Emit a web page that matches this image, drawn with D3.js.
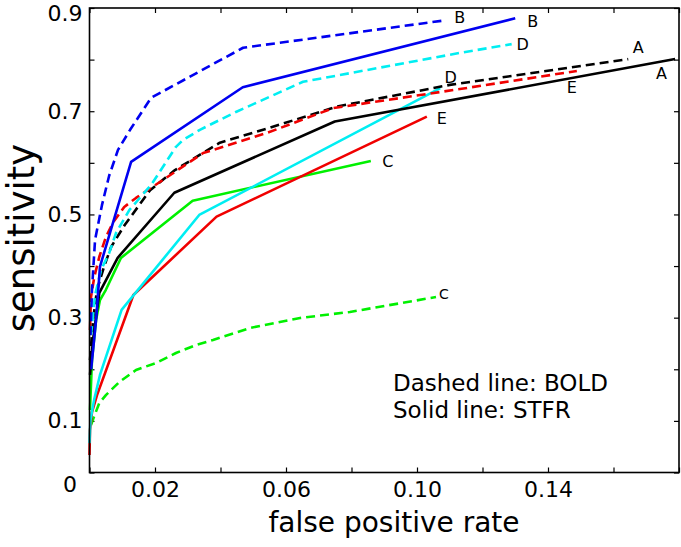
<!DOCTYPE html>
<html><head><meta charset="utf-8">
<script src="https://cdn.jsdelivr.net/npm/d3@7"></script>
<style>body{margin:0;background:#fff}svg{display:block}text{font-family:"DejaVu Sans",sans-serif;fill:#000}</style>
</head><body><svg id="c" width="681" height="547"></svg>
<script>
// ---- data ----
const xTicks = [0, 0.02, 0.04, 0.06, 0.08, 0.10, 0.12, 0.14, 0.16, 0.18];
const xTickLabels = ["", "0.02", "", "0.06", "", "0.10", "", "0.14", "", ""];
const yTicks = [0, 0.1, 0.2, 0.3, 0.4, 0.5, 0.6, 0.7, 0.8, 0.9];
const yTickLabels = ["0", "0.1", "", "0.3", "", "0.5", "", "0.7", "", "0.9"];

const fprA_BOLD = [0.00015,0.00107,0.0023,0.0044,0.0066,0.0108,0.0185,0.0261,0.0398,0.0551,0.0755,0.110,0.1645];
const sensA_BOLD = [0.218,0.2955,0.354,0.398,0.437,0.480,0.547,0.586,0.639,0.668,0.709,0.751,0.801];
const fprA_STFR = [0.00015,0.00107,0.003,0.0086,0.0259,0.0749,0.1788];
const sensA_STFR = [0.189,0.257,0.348,0.416,0.542,0.680,0.801];

const fprB_BOLD = [0.0003,0.00076,0.0017,0.0038,0.006,0.0087,0.0124,0.0188,0.0469,0.1085];
const sensB_BOLD = [0.266,0.354,0.451,0.518,0.575,0.625,0.664,0.726,0.823,0.876];
const fprB_STFR = [0.0005,0.002,0.0032,0.0127,0.0468,0.13];
const sensB_STFR = [0.2,0.295,0.399,0.602,0.7465,0.88];

const fprC_BOLD = [0.00046,0.001,0.003,0.005,0.0091,0.0142,0.0203,0.0264,0.0325,0.0377,0.049,0.0643,0.0795,0.1058];
const sensC_BOLD = [0.092,0.1017,0.1347,0.150,0.1754,0.1986,0.2122,0.2316,0.247,0.2568,0.280,0.2994,0.311,0.340];
const fprC_STFR = [0.00015,0.00076,0.002,0.0032,0.005,0.0096,0.0315,0.0859];
const sensC_STFR = [0.121,0.218,0.2955,0.334,0.354,0.4157,0.5267,0.6037];

const fprD_BOLD = [0.00046,0.0017,0.0035,0.006,0.0081,0.0101,0.0122,0.0188,0.0264,0.0285,0.0337,0.0447,0.0652,0.1131,0.1289];
const sensD_BOLD = [0.2665,0.344,0.392,0.425,0.464,0.486,0.509,0.557,0.631,0.644,0.664,0.6986,0.757,0.813,0.830];
const fprD_STFR = [0,0.0003,0.0014,0.0032,0.0098,0.0335,0.1071];
const sensD_STFR = [0.057,0.1017,0.1405,0.189,0.315,0.499,0.7446];

const fprE_BOLD = [0.00015,0.00046,0.00147,0.003,0.005,0.0071,0.0106,0.0142,0.0234,0.0347,0.0542,0.0744,0.1131,0.1488];
const sensE_BOLD = [0.276,0.340,0.379,0.418,0.456,0.4835,0.5145,0.532,0.571,0.619,0.658,0.706,0.743,0.778];
const fprE_STFR = [0,0.00015,0.00076,0.0023,0.0134,0.0388,0.103];
const sensE_STFR = [0.0339,0.082,0.117,0.150,0.344,0.4957,0.6895];

const noteLines = ["Dashed line: BOLD", "Solid line: STFR"];

// ---- styles ----
const series = [
  {label:"C", fpr:fprC_BOLD, sens:sensC_BOLD, color:"#00f000", dashed:true,  off:[8,-3], fs:14},
  {label:"C", fpr:fprC_STFR, sens:sensC_STFR, color:"#00f000", dashed:false, off:[17,1], fs:16},
  {label:"E", fpr:fprE_STFR, sens:sensE_STFR, color:"#f00000", dashed:false, off:[15,2], fs:16},
  {label:"D", fpr:fprD_STFR, sens:sensD_STFR, color:"#00eef2", dashed:false, off:[10.5,-11], fs:16},
  {label:"A", fpr:fprA_STFR, sens:sensA_STFR, color:"#000000", dashed:false, off:[-13.5,14], fs:16},
  {label:"A", fpr:fprA_BOLD, sens:sensA_BOLD, color:"#000000", dashed:true,  off:[10,-12], fs:16},
  {label:"E", fpr:fprE_BOLD, sens:sensE_BOLD, color:"#f00000", dashed:true,  off:[-5,17], fs:16},
  {label:"D", fpr:fprD_BOLD, sens:sensD_BOLD, color:"#00eef2", dashed:true,  off:[11,0], fs:16},
  {label:"B", fpr:fprB_STFR, sens:sensB_STFR, color:"#0000f0", dashed:false, off:[17.5,3], fs:16},
  {label:"B", fpr:fprB_BOLD, sens:sensB_BOLD, color:"#0000f0", dashed:true,  off:[15,-2.5], fs:16}
];

const svg = d3.select("#c");
const x = d3.scaleLinear().domain([0, 0.18]).range([89.5, 679]);
const y = d3.scaleLinear().domain([0, 0.9]).range([472.5, 8]);

// axes
const gx = svg.append("g").attr("transform", `translate(0,${y(0)})`)
  .call(d3.axisBottom(x).tickValues(xTicks).tickSize(-5).tickSizeOuter(0).tickPadding(9)
    .tickFormat((d,i)=>xTickLabels[i]));
const gy = svg.append("g").attr("transform", `translate(${x(0)},0)`)
  .call(d3.axisLeft(y).tickValues(yTicks).tickSize(-5).tickSizeOuter(0).tickPadding(7)
    .tickFormat((d,i)=>yTickLabels[i]));
const gt = svg.append("g").attr("transform", `translate(0,${y(0.9)})`)
  .call(d3.axisTop(x).tickValues(xTicks).tickSize(-5).tickSizeOuter(0).tickFormat(""));
const gr = svg.append("g").attr("transform", `translate(${x(0.18)},0)`)
  .call(d3.axisRight(y).tickValues(yTicks).tickSize(-5).tickSizeOuter(0).tickFormat(""));
[gx,gy,gt,gr].forEach(g=>{
  g.select(".domain").remove();
  g.selectAll(".tick line").attr("stroke","#000").attr("stroke-width",1.2);
  g.selectAll("text").attr("font-size",22).attr("font-family","DejaVu Sans").attr("fill","#000");
});
gy.selectAll(".tick").filter(d=>d===0.9).select("text").attr("dy","0.55em");
gy.selectAll(".tick").filter(d=>d===0).select("text").attr("dx",-5.5).attr("dy","0.88em");

// lines
const line = d3.line().x(d=>x(d[0])).y(d=>y(d[1]));
series.forEach(s=>{
  const pts = s.fpr.map((f,i)=>[f, s.sens[i]]);
  svg.append("path").datum(pts).attr("d", line)
    .attr("fill","none").attr("stroke", s.color).attr("stroke-width", 2.6)
    .attr("stroke-linejoin","round")
    .attr("stroke-dasharray", s.dashed ? "9,5" : null);
  const last = pts[pts.length-1];
  svg.append("text").attr("x", x(last[0]) + s.off[0]).attr("y", y(last[1]) + s.off[1])
    .attr("text-anchor","middle").attr("dominant-baseline","central")
    .attr("font-size", s.fs).text(s.label);
});

// frame
svg.append("rect").attr("x", x(0)).attr("y", y(0.9))
  .attr("width", x(0.18)-x(0)).attr("height", y(0)-y(0.9))
  .attr("fill","none").attr("stroke","#000").attr("stroke-width",1.6);

// notes
noteLines.forEach((t,i)=>{
  svg.append("text").attr("x",393).attr("y",391 + i*27).attr("font-size",23).text(t);
});

// axis titles
svg.append("text").attr("x",394).attr("y",532).attr("text-anchor","middle")
  .attr("font-size",28).text("false positive rate");
svg.append("text").attr("transform","translate(33.5,238) rotate(-90)")
  .attr("text-anchor","middle").attr("font-size",37).text("sensitivity");
</script></body></html>
